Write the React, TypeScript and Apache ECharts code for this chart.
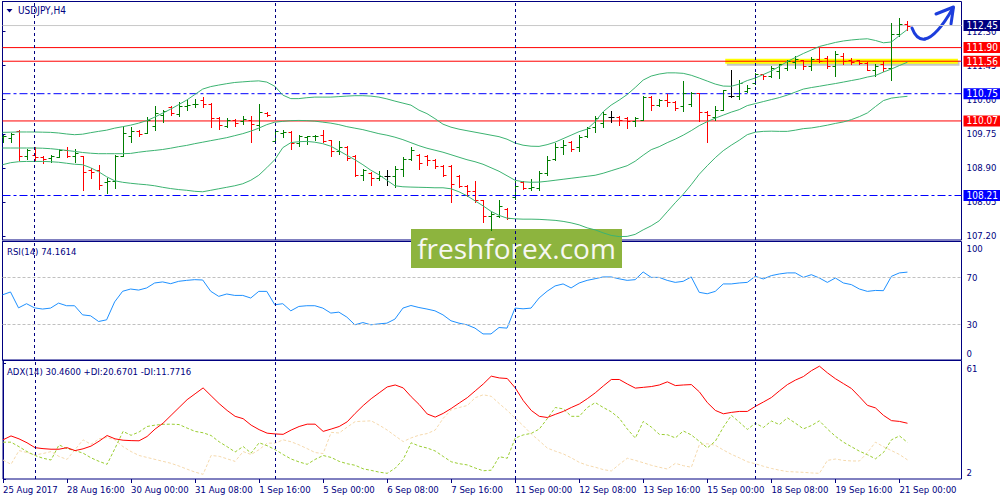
import React, { useEffect, useRef } from "react";
import * as echarts from "echarts";

// ---------- data ----------
const xTickLabels = ["25 Aug 2017", "28 Aug 16:00", "30 Aug 00:00", "31 Aug 08:00", "1 Sep 16:00", "5 Sep 00:00", "6 Sep 08:00", "7 Sep 16:00", "11 Sep 00:00", "12 Sep 08:00", "13 Sep 16:00", "15 Sep 00:00", "18 Sep 08:00", "19 Sep 16:00", "21 Sep 00:00"];
const xTickIndex = [0, 8, 16, 24, 32, 40, 48, 56, 64, 72, 80, 88, 96, 104, 112];
const weekSeparators = [4, 34, 64, 94];
const priceTicks = [107.2, 108.05, 108.9, 109.75, 110.6, 111.45, 112.3];
const rsiTicks = [0, 30, 70, 100];
const rsiLevels = [70, 30];
const adxTicks = [2, 61];
const redLevels = [111.9, 111.56, 110.07];
const blueLevels = [110.75, 108.21];
const bidLevel = 112.45;
const highlightLevel = 111.56;
const highlightRange = [90.25, 119.3];

const symbolTitle = "USDJPY,H4";
const rsiTitle = "RSI(14) 74.1614";
const adxTitle = "ADX(14) 30.4600 +DI:20.6701 -DI:11.7716";

// [open, high, low, close]
const ohlc = [
  [109.66, 109.73, 109.54, 109.69], [109.64, 109.76, 109.54, 109.75], [109.83, 109.85, 109.09, 109.19], [109.19, 109.37, 109.12, 109.35], [109.21, 109.43, 109.09, 109.18],
  [109.16, 109.19, 109.02, 109.12], [109.14, 109.23, 109.04, 109.19], [109.17, 109.37, 109.17, 109.35], [109.34, 109.42, 109.17, 109.19], [109.19, 109.37, 109.04, 109.26],
  [109.19, 109.2, 108.34, 108.8], [108.85, 108.9, 108.64, 108.79], [108.85, 108.98, 108.37, 108.48], [108.54, 108.64, 108.27, 108.56], [108.56, 109.23, 108.4, 109.2],
  [109.19, 109.92, 109.19, 109.76], [109.69, 109.91, 109.54, 109.81], [109.83, 109.85, 109.69, 109.75], [109.78, 110.18, 109.76, 110.09], [109.95, 110.45, 109.85, 110.26],
  [110.23, 110.35, 110.05, 110.31], [110.42, 110.44, 110.23, 110.28], [110.25, 110.54, 110.2, 110.44], [110.45, 110.6, 110.35, 110.48], [110.49, 110.62, 110.42, 110.5],
  [110.6, 110.66, 110.41, 110.5], [110.49, 110.52, 109.92, 110.14], [110.14, 110.17, 109.88, 109.98], [109.95, 110.14, 109.92, 110.1], [110.09, 110.12, 109.95, 110.02],
  [110.06, 110.19, 110.0, 110.12], [110.1, 110.19, 109.54, 110.0], [109.98, 110.49, 109.85, 110.29], [110.27, 110.29, 110.19, 110.23], [109.56, 109.87, 109.54, 109.81],
  [109.78, 109.85, 109.67, 109.8], [109.79, 109.81, 109.37, 109.52], [109.52, 109.73, 109.44, 109.69], [109.67, 109.7, 109.5, 109.69], [109.69, 109.73, 109.59, 109.7],
  [109.73, 109.85, 109.54, 109.56], [109.59, 109.6, 109.19, 109.31], [109.31, 109.56, 109.25, 109.42], [109.42, 109.45, 109.1, 109.14], [109.19, 109.23, 108.69, 108.73],
  [108.73, 108.87, 108.6, 108.84], [108.77, 108.79, 108.48, 108.64], [108.64, 108.81, 108.6, 108.7], [108.69, 108.85, 108.48, 108.69], [108.69, 108.95, 108.42, 108.87],
  [108.87, 109.17, 108.69, 109.12], [109.12, 109.42, 109.1, 109.35], [109.23, 109.25, 108.87, 109.02], [109.19, 109.23, 108.98, 109.1], [109.09, 109.12, 108.9, 108.95],
  [108.95, 108.98, 108.7, 108.72], [108.95, 108.98, 108.04, 108.5], [108.69, 108.72, 108.41, 108.45], [108.45, 108.47, 108.2, 108.31], [108.31, 108.56, 108.06, 108.09],
  [108.09, 108.1, 107.56, 107.7], [107.69, 107.79, 107.35, 107.75], [107.7, 108.09, 107.67, 107.94], [107.87, 107.89, 107.62, 107.64], [108.17, 108.56, 108.12, 108.45],
  [108.54, 108.56, 108.37, 108.39], [108.39, 108.62, 108.34, 108.42], [108.39, 108.81, 108.35, 108.77], [108.77, 109.2, 108.73, 109.09], [109.12, 109.52, 109.1, 109.42],
  [109.42, 109.6, 109.25, 109.48], [109.54, 109.56, 109.31, 109.37], [109.42, 109.72, 109.32, 109.66], [109.69, 109.92, 109.66, 109.89], [109.92, 110.2, 109.79, 110.14],
  [110.02, 110.29, 109.92, 110.25], [110.17, 110.31, 110.04, 110.17], [110.17, 110.2, 109.98, 110.1], [110.14, 110.17, 109.89, 110.06], [110.06, 110.17, 109.94, 110.14],
  [110.1, 110.7, 110.09, 110.67], [110.67, 110.69, 110.35, 110.48], [110.48, 110.62, 110.45, 110.59], [110.59, 110.73, 110.45, 110.54], [110.54, 110.56, 110.34, 110.4],
  [110.44, 111.06, 110.32, 110.77], [110.5, 110.79, 110.45, 110.77], [110.77, 110.77, 110.06, 110.29], [110.29, 110.31, 109.54, 110.23], [110.17, 110.45, 110.1, 110.35],
  [110.35, 110.85, 110.35, 110.84], [110.7, 111.35, 110.67, 110.7], [110.69, 111.09, 110.62, 111.02], [110.81, 110.97, 110.78, 110.88], [111.02, 111.27, 111.0, 111.23],
  [111.24, 111.25, 111.12, 111.19], [111.19, 111.44, 111.17, 111.39], [111.31, 111.5, 111.14, 111.48], [111.39, 111.6, 111.34, 111.56], [111.54, 111.69, 111.4, 111.62],
  [111.59, 111.6, 111.37, 111.44], [111.45, 111.67, 111.35, 111.62], [111.62, 111.9, 111.54, 111.56], [111.64, 111.7, 111.4, 111.44], [111.44, 111.81, 111.19, 111.73],
  [111.7, 111.77, 111.48, 111.56], [111.6, 111.64, 111.5, 111.54], [111.59, 111.6, 111.48, 111.52], [111.52, 111.54, 111.34, 111.35], [111.35, 111.48, 111.2, 111.44],
  [111.5, 111.56, 111.31, 111.4], [111.4, 112.52, 111.09, 112.23], [112.23, 112.64, 112.2, 112.5], [112.5, 112.56, 112.35, 112.45],
];

const bbUpper = [
  109.785, 109.79, 109.795, 109.795, 109.795, 109.79, 109.785, 109.77, 109.745, 109.727,
  109.74, 109.777, 109.81, 109.84, 109.89, 109.927, 109.965, 110.015, 110.077, 110.165,
  110.265, 110.365, 110.477, 110.59, 110.727, 110.865, 110.927, 110.965, 111.0, 111.03,
  111.045, 111.06, 111.07, 111.04, 110.935, 110.715, 110.627, 110.627, 110.65, 110.665,
  110.665, 110.665, 110.677, 110.69, 110.7, 110.7, 110.69, 110.665, 110.62, 110.565,
  110.515, 110.465, 110.34, 110.253, 110.128, 109.99, 109.915, 109.865, 109.827, 109.79,
  109.753, 109.715, 109.678, 109.615, 109.52, 109.465, 109.44, 109.435, 109.478, 109.54,
  109.628, 109.715, 109.803, 109.865, 110.05, 110.3, 110.465, 110.59, 110.728, 110.903,
  111.09, 111.19, 111.24, 111.27, 111.27, 111.258, 111.21, 111.14, 111.065, 110.99,
  110.94, 110.935, 110.99, 111.078, 111.14, 111.228, 111.315, 111.428, 111.553, 111.653,
  111.753, 111.84, 111.928, 111.978, 112.028, 112.065, 112.09, 112.108, 112.12, 112.078,
  112.02, 112.04, 112.2, 112.353,
];
const bbMiddle = [
  109.395, 109.395, 109.395, 109.395, 109.395, 109.39, 109.378, 109.358, 109.335, 109.31,
  109.283, 109.265, 109.253, 109.253, 109.253, 109.253, 109.26, 109.29, 109.315, 109.335,
  109.358, 109.39, 109.428, 109.46, 109.503, 109.54, 109.578, 109.615, 109.653, 109.703,
  109.753, 109.815, 109.89, 109.978, 110.04, 110.06, 110.078, 110.083, 110.078, 110.065,
  110.04, 110.015, 109.978, 109.928, 109.89, 109.853, 109.803, 109.753, 109.715, 109.665,
  109.603, 109.528, 109.453, 109.39, 109.34, 109.29, 109.228, 109.165, 109.103, 109.053,
  108.99, 108.903, 108.815, 108.703, 108.59, 108.553, 108.54, 108.545, 108.565, 108.59,
  108.615, 108.64, 108.665, 108.69, 108.715, 108.765, 108.828, 108.89, 108.953, 109.065,
  109.215, 109.353, 109.428, 109.528, 109.615, 109.715, 109.828, 109.953, 110.053, 110.14,
  110.215, 110.29, 110.353, 110.453, 110.503, 110.553, 110.603, 110.653, 110.715, 110.79,
  110.865, 110.903, 110.935, 110.97, 111.003, 111.04, 111.078, 111.115, 111.165, 111.203,
  111.29, 111.365, 111.453, 111.535,
];
const bbLower = [
  108.978, 109.028, 109.053, 109.06, 109.06, 109.06, 109.053, 109.04, 109.015, 108.99,
  108.978, 108.903, 108.803, 108.678, 108.578, 108.54, 108.515, 108.495, 108.478, 108.453,
  108.415, 108.383, 108.358, 108.34, 108.315, 108.303, 108.34, 108.378, 108.415, 108.453,
  108.503, 108.59, 108.715, 108.903, 109.103, 109.403, 109.528, 109.553, 109.56, 109.54,
  109.503, 109.44, 109.328, 109.215, 109.103, 108.978, 108.84, 108.728, 108.59, 108.453,
  108.428, 108.42, 108.415, 108.41, 108.403, 108.403, 108.378, 108.303, 108.203, 108.078,
  107.953, 107.815, 107.715, 107.645, 107.628, 107.62, 107.62, 107.615, 107.603, 107.59,
  107.565, 107.528, 107.478, 107.403, 107.353, 107.278, 107.215, 107.185, 107.19, 107.24,
  107.353, 107.453, 107.578, 107.803, 108.028, 108.24, 108.478, 108.74, 108.953, 109.153,
  109.328, 109.465, 109.59, 109.728, 109.79, 109.81, 109.815, 109.81, 109.81, 109.84,
  109.878, 109.895, 109.928, 109.965, 110.008, 110.045, 110.103, 110.178, 110.27, 110.428,
  110.578, 110.64, 110.665, 110.685,
];
const rsi = [
  55, 57.4, 44, 47.5, 44, 43, 43.8, 48, 45.8, 45.8,
  38.1, 37.3, 32.5, 33.9, 49, 58, 59.9, 59, 60.8, 65,
  65.9, 64.4, 66.4, 67.2, 67.8, 67.5, 58, 53.7, 55.7, 54.5,
  54.5, 52.3, 57.9, 57.9, 46.6, 47.5, 41.5, 45.2, 45.8, 45.8,
  43.8, 39.6, 40.4, 36.2, 29.7, 31.6, 29.7, 30.5, 31.1, 34.5,
  43.8, 46, 44.3, 43, 41.5, 38.1, 33.1, 31.1, 29.7, 26.9,
  22, 22, 27.4, 26.9, 43.8, 43.2, 43.8, 52.3, 58, 62.5,
  64.2, 60.8, 65, 67.2, 68.6, 70.1, 70.1, 68.5, 67.2, 67.8,
  74.3, 69.7, 69.7, 67.2, 65.5, 66.4, 70.1, 57.1, 55.9, 57.9,
  64.2, 64.2, 65, 65.5, 70.6, 68.4, 71.2, 72.6, 73.5, 73.5,
  69.7, 72, 69.2, 65.5, 69.2, 65, 63.6, 59.9, 57.9, 58.7,
  58.5, 70.6, 73.5, 74.16,
];
const adx = [
  22, 24, 22.5, 20.5, 18, 17.5, 17.2, 17.2, 18, 16.5,
  17.4, 18.8, 21.3, 24.2, 22.5, 21.8, 21.6, 21.5, 23.7, 27.5,
  30.5, 34.5, 38.5, 42.5, 45.5, 48.5, 44.5, 40.5, 37, 34,
  32.8, 29.5, 27.2, 25.4, 25, 24.8, 27, 28.8, 30, 30,
  26.3, 27.5, 28.8, 31.2, 35.5, 39.5, 43, 46, 49, 50,
  48.5, 44, 40, 35.2, 33.6, 35.5, 38, 40.8, 43.5, 47,
  50.5, 54.5, 53.6, 53.3, 48.5, 42, 37, 34, 33.4, 35,
  36.5, 38.5, 40.3, 43, 46, 49.5, 52.8, 52.8, 50.5, 48.4,
  48.8, 49.2, 50, 51.6, 49.7, 50, 50.2, 46.5, 41, 37,
  35.3, 36, 36.5, 36.5, 39.1, 41.3, 43.6, 47, 50.2, 52.5,
  54.3, 57.3, 59.6, 56.2, 53.2, 50.7, 48.2, 44, 39.6, 38.3,
  34.5, 31.8, 31.4, 30.46,
];
const plusDI = [
  20.8, 20.8, 18.5, 16, 14, 12.6, 11.7, 19.4, 17.5, 16.5,
  15.2, 12.8, 11, 9.5, 17.7, 26.3, 24.3, 26, 28.8, 29.5,
  29.9, 30, 29.8, 28, 26.3, 25.6, 24.2, 21, 18.5, 15.8,
  18.6, 15.2, 20.5, 19, 17, 14.5, 12.2, 10.7, 9.5, 12,
  14, 13, 11, 9.8, 9, 7.2, 6.4, 5.5, 4.9, 7.5,
  12, 20.5, 18.8, 17.8, 16.3, 13.5, 10.8, 9.8, 9.2, 7.6,
  6.2, 6.5, 13.4, 12.6, 22.9, 24.5, 25.3, 27.5, 32.8, 38.5,
  37.8, 34, 34, 38.5, 41, 38.5, 36.3, 33, 27.5, 22.9,
  31.4, 28.5, 24.8, 24.6, 23, 26.5, 24.5, 21.2, 17.9, 21.3,
  28.5, 34.5, 31, 27.3, 30.5, 28.3, 31.6, 29.8, 33.2, 30.5,
  27.6, 29.3, 31.7, 27.5, 23.8, 20.8, 18.5, 16.2, 14.4, 12.3,
  15.5, 22, 24, 20.67,
];
const minusDI = [
  11.7, 9.5, 16.5, 15.5, 14.3, 15, 16, 13.5, 12, 17,
  22, 19.7, 22.5, 23.2, 22, 18.5, 16, 14, 13, 12,
  11, 10, 8.6, 7, 5.5, 4.4, 14, 13.6, 12.3, 11,
  16, 14.5, 17, 20.3, 20.3, 22, 21, 19.4, 17.5, 15.5,
  15, 25.8, 25.5, 28.5, 31.3, 31.5, 31.7, 29.5, 27, 24,
  21.1, 23, 24.4, 25.2, 27, 33, 37.3, 38.5, 39.5, 43.5,
  45, 44.2, 40.5, 37, 33, 29.2, 25, 21.5, 17.8, 16.2,
  14.8, 12.8, 10.5, 9, 8, 6.8, 6.1, 9.5, 12.6, 11.5,
  10.3, 9, 8, 7.1, 10, 8.8, 8, 19.5, 20, 19.2,
  16.8, 14.6, 12.8, 10.8, 9.8, 8.5, 7.4, 6.5, 5.8, 5.6,
  5.4, 5.1, 4.9, 11.5, 12.2, 11.5, 11.2, 11.2, 15.5, 20.8,
  18.5, 16.5, 14.5, 11.77,
];

// ---------- styling ----------
const FONT = "'DejaVu Sans Condensed', 'Liberation Sans', sans-serif";
const FS = 9.5;
const NAVY = "#000080";
const X_MAX = 119.75;
const SEP_DASH = [3, 3];
const DASH_DOT = [8, 3, 3, 3];
const HIGHLIGHT_HALF = 0.0625; // half thickness of the yellow band, in price units
const SHADOW_SHIFT = 0.05; // drop-shadow offset of the band, in price units

const indexed = (arr: number[]) => arr.map((v, i) => [i, v]);

const separatorLines = weekSeparators.map((x) => ({
  xAxis: x,
  lineStyle: { color: NAVY, type: SEP_DASH, width: 1 },
  label: { show: false },
}));

type Level = { value: number; color: string; bg: string; dash: any };
const levels: Level[] = [
  { value: bidLevel, color: "#c8c8c8", bg: NAVY, dash: "solid" },
  ...redLevels.map((v) => ({ value: v, color: "#ff0000", bg: "#ff0000", dash: "solid" })),
  ...blueLevels.map((v) => ({ value: v, color: "#0000ff", bg: "#0000ff", dash: DASH_DOT })),
];

function buildOption() {
  const grids = [
    { top: 1.5, height: 238.5 },
    { top: 241.5, height: 118.5 },
    { top: 360.5, height: 118.5 },
  ].map((g) => ({
    ...g,
    left: 2.5,
    right: 38.5,
    show: true,
    borderColor: NAVY,
    borderWidth: 1,
    backgroundColor: "transparent",
  }));

  const xBase = {
    type: "value",
    min: 0,
    max: X_MAX,
    axisLine: { show: false },
    splitLine: { show: false },
    axisTick: { show: false },
    axisLabel: { show: false },
  };

  const axisText = { color: NAVY, fontFamily: FONT, fontSize: FS };

  const yBase = {
    type: "value",
    position: "right",
    splitLine: { show: false },
    axisLine: { show: true, lineStyle: { color: NAVY } },
  };

  const bandStyle = { color: "#3cb371", width: 1 };

  const levelSeries = levels.map((lv, k) => ({
    name: "level" + k,
    type: "line",
    xAxisIndex: 0,
    yAxisIndex: 0,
    z: 2,
    silent: true,
    showSymbol: false,
    data: [
      [0, lv.value],
      [X_MAX, lv.value],
    ],
    lineStyle: { color: lv.color, width: 1, type: lv.dash },
    itemStyle: { color: lv.color },
    endLabel: {
      show: true,
      formatter: () => lv.value.toFixed(2),
      backgroundColor: lv.bg,
      color: "#ffffff",
      fontFamily: FONT,
      fontSize: FS + 0.5,
      padding: [1, 8, 0, 3],
      distance: 2,
    },
  }));

  return {
    animation: false,
    textStyle: { fontFamily: FONT },
    grid: grids,
    xAxis: [
      { ...xBase, gridIndex: 0 },
      { ...xBase, gridIndex: 1 },
      {
        ...xBase,
        gridIndex: 2,
        axisTick: { show: true, length: 4, lineStyle: { color: NAVY }, customValues: xTickIndex },
        axisLabel: {
          show: true,
          customValues: xTickIndex,
          formatter: (v: number) => xTickLabels[xTickIndex.indexOf(Math.round(v))] ?? "",
          align: "left",
          margin: 5,
          hideOverlap: false,
          showMinLabel: true,
          showMaxLabel: true,
          ...axisText,
        },
      },
    ],
    yAxis: [
      {
        ...yBase,
        gridIndex: 0,
        min: 107.1,
        max: 113.05,
        axisTick: { show: true, length: 3, lineStyle: { color: NAVY }, customValues: priceTicks },
        axisLabel: { customValues: priceTicks, formatter: (v: number) => v.toFixed(2), margin: 5, ...axisText },
      },
      {
        ...yBase,
        gridIndex: 1,
        min: 0,
        max: 100,
        axisTick: { show: true, length: 3, lineStyle: { color: NAVY }, customValues: rsiTicks },
        axisLabel: {
          customValues: rsiTicks,
          margin: 5,
          ...axisText,
          formatter: (v: number) => (v === 100 ? "{t|100}" : v === 0 ? "{b|0}" : String(v)),
          rich: {
            t: { ...axisText, padding: [14, 0, 0, 0] },
            b: { ...axisText, padding: [0, 0, 13, 0] },
          },
        },
      },
      {
        ...yBase,
        gridIndex: 2,
        min: 2,
        max: 62.5,
        axisTick: { show: true, length: 3, lineStyle: { color: NAVY }, customValues: adxTicks },
        axisLabel: {
          customValues: adxTicks,
          margin: 5,
          ...axisText,
          formatter: (v: number) => (v === 61 ? "{t|61}" : "{b|2}"),
          rich: {
            t: { ...axisText, padding: [11, 0, 0, 0] },
            b: { ...axisText, padding: [0, 0, 13, 0] },
          },
        },
      },
    ],
    series: [
      {
        name: "upper",
        type: "line",
        xAxisIndex: 0,
        yAxisIndex: 0,
        data: indexed(bbUpper),
        showSymbol: false,
        lineStyle: bandStyle,
        silent: true,
        markLine: { silent: true, symbol: ["none", "none"], data: separatorLines },
        markArea: {
          silent: true,
          data: [
            [
              {
                coord: [highlightRange[0] + 0.2, highlightLevel + HIGHLIGHT_HALF - SHADOW_SHIFT],
                itemStyle: { color: "rgba(90,90,90,0.35)" },
              },
              { coord: [highlightRange[1] + 0.2, highlightLevel - HIGHLIGHT_HALF - SHADOW_SHIFT] },
            ],
            [
              {
                coord: [highlightRange[0], highlightLevel + HIGHLIGHT_HALF],
                itemStyle: { color: "#ffff00", opacity: 1 },
              },
              { coord: [highlightRange[1], highlightLevel - HIGHLIGHT_HALF] },
            ],
          ],
        },
      },
      {
        name: "middle",
        type: "line",
        xAxisIndex: 0,
        yAxisIndex: 0,
        data: indexed(bbMiddle),
        showSymbol: false,
        lineStyle: bandStyle,
        silent: true,
      },
      {
        name: "lower",
        type: "line",
        xAxisIndex: 0,
        yAxisIndex: 0,
        data: indexed(bbLower),
        showSymbol: false,
        lineStyle: bandStyle,
        silent: true,
      },
      ...levelSeries,
      {
        name: "bars",
        type: "custom",
        xAxisIndex: 0,
        yAxisIndex: 0,
        z: 3,
        clip: true,
        silent: true,
        dimensions: ["i", "open", "high", "low", "close"],
        encode: { x: 0, y: [1, 2, 3, 4] },
        data: ohlc.map((d, i) => [i, ...d]),
        renderItem: (params: any, api: any) => {
          const i = api.value(0);
          const o = api.value(1);
          const h = api.value(2);
          const l = api.value(3);
          const c = api.value(4);
          const pH = api.coord([i, h]);
          const pL = api.coord([i, l]);
          const pO = api.coord([i, o]);
          const pC = api.coord([i, c]);
          const x = Math.round(pH[0]) + 0.5;
          const color = c > o ? "#007d00" : c < o ? "#ff0000" : "#000000";
          const style = { stroke: color, lineWidth: 1 };
          const yO = Math.round(pO[1]) + 0.5;
          const yC = Math.round(pC[1]) + 0.5;
          return {
            type: "group",
            children: [
              { type: "line", shape: { x1: x, y1: Math.round(pH[1]), x2: x, y2: Math.round(pL[1]) + 1 }, style },
              { type: "line", shape: { x1: x - 3, y1: yO, x2: x, y2: yO }, style },
              { type: "line", shape: { x1: x, y1: yC, x2: x + 3, y2: yC }, style },
            ],
          };
        },
      },
      {
        name: "rsi",
        type: "line",
        xAxisIndex: 1,
        yAxisIndex: 1,
        data: indexed(rsi),
        showSymbol: false,
        lineStyle: { color: "#1e90ff", width: 1 },
        silent: true,
        markLine: {
          silent: true,
          symbol: ["none", "none"],
          data: [
            ...rsiLevels.map((v) => ({
              yAxis: v,
              lineStyle: { color: "#c0c0c0", type: [3, 2], width: 1 },
              label: { show: false },
            })),
            ...separatorLines,
          ],
        },
      },
      {
        name: "-DI",
        type: "line",
        xAxisIndex: 2,
        yAxisIndex: 2,
        data: indexed(minusDI),
        showSymbol: false,
        lineStyle: { color: "#f5d9ad", width: 1, type: [3, 2] },
        silent: true,
        markLine: { silent: true, symbol: ["none", "none"], data: separatorLines },
      },
      {
        name: "+DI",
        type: "line",
        xAxisIndex: 2,
        yAxisIndex: 2,
        data: indexed(plusDI),
        showSymbol: false,
        lineStyle: { color: "#9acd32", width: 1, type: [3, 2] },
        silent: true,
      },
      {
        name: "adx",
        type: "line",
        xAxisIndex: 2,
        yAxisIndex: 2,
        data: indexed(adx),
        showSymbol: false,
        lineStyle: { color: "#ff0000", width: 1 },
        silent: true,
      },
    ],
    graphic: [
      { type: "polygon", shape: { points: [[6.5, 9], [12.5, 9], [9.5, 12.5]] }, style: { fill: NAVY } },
      {
        type: "text",
        x: 18,
        y: 10.5,
        style: { text: symbolTitle, fill: NAVY, fontSize: FS + 0.5, fontFamily: FONT, verticalAlign: "middle" },
      },
      {
        type: "text",
        x: 7,
        y: 251.5,
        style: { text: rsiTitle, fill: NAVY, fontSize: FS, fontFamily: FONT, verticalAlign: "middle" },
      },
      {
        type: "text",
        x: 7,
        y: 371,
        style: { text: adxTitle, fill: NAVY, fontSize: FS, fontFamily: FONT, verticalAlign: "middle" },
      },
      {
        type: "group",
        x: 411,
        y: 229,
        z: 100,
        children: [
          { type: "rect", shape: { x: 0, y: 0, width: 211, height: 39 }, style: { fill: "#8db43e" } },
          {
            type: "text",
            x: 105.5,
            y: 19,
            style: {
              text: "freshforex.com",
              fill: "#f7f7f2",
              fontSize: 28,
              fontFamily: "'Open Sans', 'Noto Sans', sans-serif",
              align: "center",
              verticalAlign: "middle",
            },
          },
        ],
      },
      {
        type: "group",
        z: 100,
        children: [
          {
            type: "bezierCurve",
            shape: { x1: 912, y1: 28, cpx1: 915, cpy1: 36, cpx2: 919, cpy2: 40, x2: 925, y2: 39 },
            style: { stroke: "#1c3ddc", lineWidth: 3, fill: null, lineCap: "round" },
          },
          {
            type: "bezierCurve",
            shape: { x1: 925, y1: 39, cpx1: 935, cpy1: 37, cpx2: 945, cpy2: 22, x2: 953, y2: 8 },
            style: { stroke: "#1c3ddc", lineWidth: 3, fill: null, lineCap: "round" },
          },
          {
            type: "polyline",
            shape: { points: [[936, 14], [953.5, 7], [951, 24]] },
            style: { stroke: "#1c3ddc", lineWidth: 3, fill: null, lineCap: "round", lineJoin: "round" },
          },
        ],
      },
    ],
  };
}

export default function App() {
  const ref = useRef<HTMLDivElement>(null);
  useEffect(() => {
    if (!ref.current) return;
    const chart = echarts.init(ref.current, null, { renderer: "svg" });
    chart.setOption(buildOption() as any);
    return () => chart.dispose();
  }, []);
  return (
    <div
      ref={ref}
      style={{ position: "absolute", left: 0, top: 0, width: 1000, height: 500, background: "#ffffff" }}
    />
  );
}
